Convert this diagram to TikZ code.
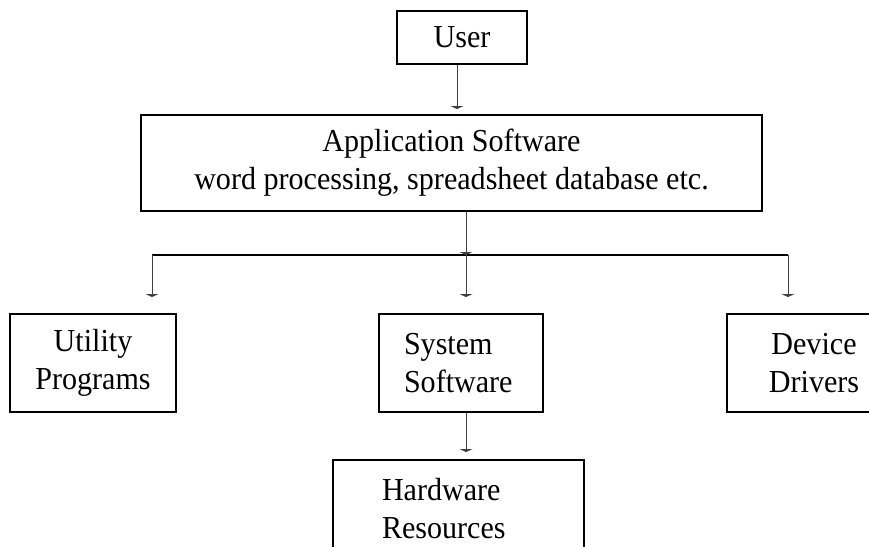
\documentclass[tikz,border=0pt]{standalone}
\usepackage{fontspec}
\setmainfont{Liberation Serif}[FakeStretch=0.94]
\usetikzlibrary{arrows.meta}

\tikzset{
    box/.style={draw,line width=2pt,inner sep=0pt,align=center,minimum height=98pt},
    arrow/.style={draw=black!75,line width=1pt,-{Triangle[width=13pt,length=3pt]}},
    bus/.style={line width=2pt}
    }

\begin{document}
\begin{tikzpicture}[x=1pt,y=-1pt,font=\fontsize{32}{38}\selectfont]
                \useasboundingbox (0,0) rectangle (869,546);
                \clip (0,0) rectangle (869,546);
                \node(user)[box, minimum width=130pt, minimum height=53pt] at (462,37.5){User};
                \node(app)[box, minimum width=621pt, minimum height=96pt] at (451.5,163)
                    {Application Software\\word processing, spreadsheet database etc.};
                \node(utility)[box, minimum width=166pt] at (93,363){Utility\\Programs};
                \node(system)[box, text width=114pt, inner xsep=25pt, align=left] at (461,363)
                    {System\\Software};
                \node(device)[box, minimum width=174pt] at (814,363){Device\\Drivers};
                \node(hardware)[box, text width=153pt, inner xsep=49pt, align=left] at (458.5,509)
                    {Hardware\\Resources};

                \coordinate(uin) at ([xshift=-5pt]user.south);
                \coordinate(busL) at (152,255);
                \coordinate(busM) at (466,255);
                \coordinate(busR) at (788,255);

                \draw[arrow, shorten >=5pt] (uin) -- (uin |- app.north);
                \draw[bus] (busL) -- (busR);
                \draw[arrow] (app.south -| busM) -- (busM);
                \draw[arrow, shorten >=16pt] (busL) -- (busL |- utility.north);
                \draw[arrow, shorten >=16pt] (busM) -- (busM |- system.north);
                \draw[arrow, shorten >=16pt] (busR) -- (busR |- device.north);
                \draw[arrow, shorten >=7pt] (system.south -| busM) -- (busM |- hardware.north);
            \end{tikzpicture}
\end{document}
